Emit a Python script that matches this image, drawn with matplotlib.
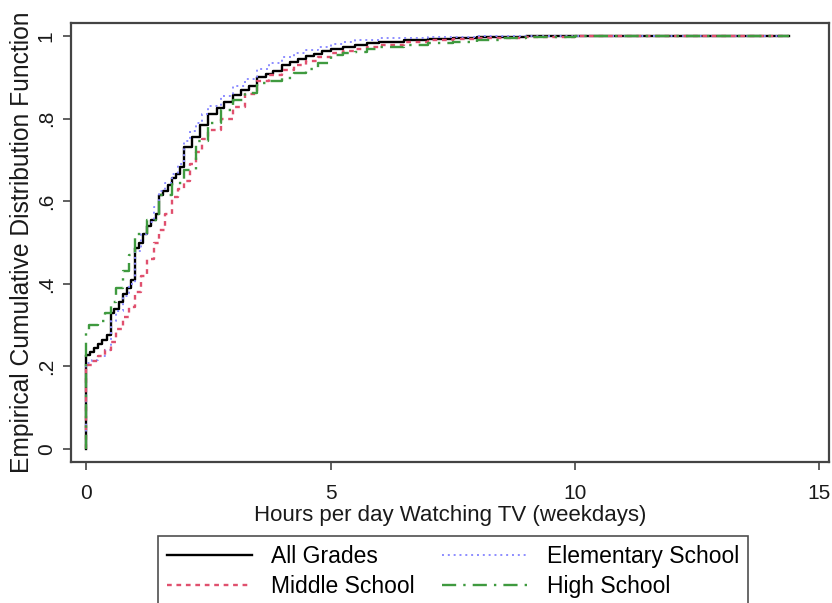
import numpy as np
import matplotlib.pyplot as plt

plt.rcParams['font.family'] = ['Liberation Sans', 'DejaVu Sans']

# ECDF step points (hours, cumulative share) for each group
all_hours = [0, 0, 0.08, 0.17, 0.25, 0.33, 0.42, 0.5, 0.58, 0.67, 0.75, 0.83, 0.92,
             1.0, 1.08, 1.17, 1.25, 1.33, 1.42, 1.5, 1.58, 1.67, 1.75, 1.83, 1.92,
             2.0, 2.17, 2.33, 2.5, 2.67, 2.83, 3.0, 3.17, 3.33, 3.5, 3.67, 3.83, 4.0,
             4.17, 4.33, 4.5, 4.67, 4.83, 5.0, 5.25, 5.5, 5.75, 6.0, 6.5, 7.0, 7.5,
             8.0, 9.0, 10.0, 14.37]
all_cdf = [0, 0.228, 0.235, 0.245, 0.255, 0.265, 0.275, 0.33, 0.34, 0.355, 0.375, 0.39, 0.41,
           0.487, 0.50, 0.52, 0.54, 0.555, 0.57, 0.615, 0.625, 0.64, 0.655, 0.665, 0.683,
           0.732, 0.755, 0.785, 0.81, 0.825, 0.841, 0.857, 0.868, 0.88, 0.90, 0.907, 0.915, 0.93,
           0.937, 0.944, 0.951, 0.957, 0.963, 0.969, 0.974, 0.979, 0.983, 0.986, 0.99, 0.993, 0.995,
           0.997, 0.999, 1.0, 1.0]

elem_hours = [0, 0, 0.12, 0.25, 0.38, 0.5, 0.62, 0.75, 0.88, 1.0, 1.12, 1.25, 1.38,
              1.5, 1.62, 1.75, 1.88, 2.0, 2.12, 2.25, 2.38, 2.5, 2.75, 3.0, 3.25, 3.5,
              3.75, 4.0, 4.25, 4.5, 4.75, 5.0, 5.25, 5.5, 6.0, 7.0, 8.0, 14.37]
elem_cdf = [0, 0.208, 0.215, 0.225, 0.24, 0.31, 0.335, 0.37, 0.40, 0.48, 0.52, 0.55, 0.585,
            0.625, 0.645, 0.665, 0.69, 0.745, 0.77, 0.79, 0.81, 0.83, 0.855, 0.88, 0.895, 0.92,
            0.935, 0.95, 0.958, 0.966, 0.974, 0.981, 0.986, 0.99, 0.994, 0.997, 1.0, 1.0]

mid_hours = [0, 0, 0.12, 0.25, 0.38, 0.5, 0.62, 0.75, 0.88, 1.0, 1.12, 1.25, 1.38,
             1.5, 1.62, 1.75, 1.88, 2.0, 2.12, 2.25, 2.38, 2.5, 2.75, 3.0, 3.25, 3.5,
             3.75, 4.0, 4.25, 4.5, 4.75, 5.0, 5.25, 5.5, 5.75, 6.0, 6.5, 7.0, 7.5,
             8.0, 9.0, 10.0, 14.37]
mid_cdf = [0, 0.203, 0.212, 0.225, 0.24, 0.26, 0.29, 0.32, 0.345, 0.38, 0.42, 0.46, 0.50,
           0.53, 0.57, 0.61, 0.63, 0.65, 0.69, 0.72, 0.75, 0.772, 0.80, 0.829, 0.86, 0.89,
           0.905, 0.918, 0.93, 0.94, 0.95, 0.958, 0.963, 0.968, 0.973, 0.978, 0.985, 0.99, 0.993,
           0.995, 0.998, 1.0, 1.0]

high_hours = [0, 0, 0.05, 0.25, 0.38, 0.5, 0.62, 0.75, 0.88, 1.0, 1.25, 1.5, 1.75,
              2.0, 2.25, 2.5, 2.75, 3.0, 3.25, 3.5, 3.75, 4.0, 4.25, 4.5, 4.75, 5.0,
              5.25, 5.5, 5.75, 6.0, 6.5, 7.0, 7.5, 8.0, 8.5, 9.0, 10.0, 14.37]
high_cdf = [0, 0.28, 0.30, 0.31, 0.33, 0.355, 0.39, 0.43, 0.47, 0.52, 0.555, 0.615, 0.645,
            0.675, 0.745, 0.79, 0.82, 0.845, 0.862, 0.886, 0.892, 0.898, 0.91, 0.92, 0.935, 0.955,
            0.958, 0.962, 0.968, 0.974, 0.979, 0.983, 0.986, 0.99, 0.995, 0.997, 1.0, 1.0]

labels = ['All Grades', 'Elementary School', 'Middle School', 'High School']

fig = plt.figure(figsize=(8.32, 6.03), dpi=100)
ax = fig.add_axes([0.0853, 0.234, 0.9107, 0.728])

ax.plot(all_hours, all_cdf, drawstyle='steps-post', color='black', lw=1.7,
        label=labels[0])
ax.plot(elem_hours, elem_cdf, drawstyle='steps-post', color='#8c8cff', lw=1.4,
        linestyle=(0, (1, 2)), label=labels[1])
ax.plot(mid_hours, mid_cdf, drawstyle='steps-post', color='#e0506e', lw=1.7,
        linestyle=(0, (2, 2)), label=labels[2])
ax.plot(high_hours, high_cdf, drawstyle='steps-post', color='#3f9a3f', lw=1.7,
        linestyle=(0, (6, 3, 1, 3)), label=labels[3])

ax.set_xlim(-0.31, 15.19)
ax.set_ylim(-0.031, 1.0315)
ax.set_xticks([0, 5, 10, 15])
ax.set_yticks([0, 0.2, 0.4, 0.6, 0.8, 1.0])
ax.set_yticklabels(['0', '.2', '.4', '.6', '.8', '1'], rotation=90, va='center')
ax.tick_params(labelsize=15, length=6, width=1.2, color='#444444',
               labelcolor='#1a1a1a')
ax.tick_params(axis='x', pad=10)
ax.tick_params(axis='y', pad=5)
for s in ax.spines.values():
    s.set_color('#444444')
    s.set_linewidth(1.6)

ax.set_xlabel('Hours per day Watching TV (weekdays)', fontsize=16, color='#1a1a1a',
              labelpad=1)
ax.set_ylabel('Empirical Cumulative Distribution Function', fontsize=17.7, color='#1a1a1a',
              labelpad=2)

# legend rows: All Grades / Elementary, then Middle / High
h, l = ax.get_legend_handles_labels()
order = [0, 2, 1, 3]
leg = fig.legend([h[i] for i in order], [l[i] for i in order], ncol=2,
                 loc='upper center', bbox_to_anchor=(0.5445, 0.111), fontsize=16.5,
                 frameon=True, fancybox=False, edgecolor='#222222',
                 handlelength=3.7, handletextpad=0.85, columnspacing=1.2,
                 labelspacing=0.3, borderpad=0.4, borderaxespad=0)
leg.get_frame().set_linewidth(1.2)

fig.savefig('out.png', dpi=100)
